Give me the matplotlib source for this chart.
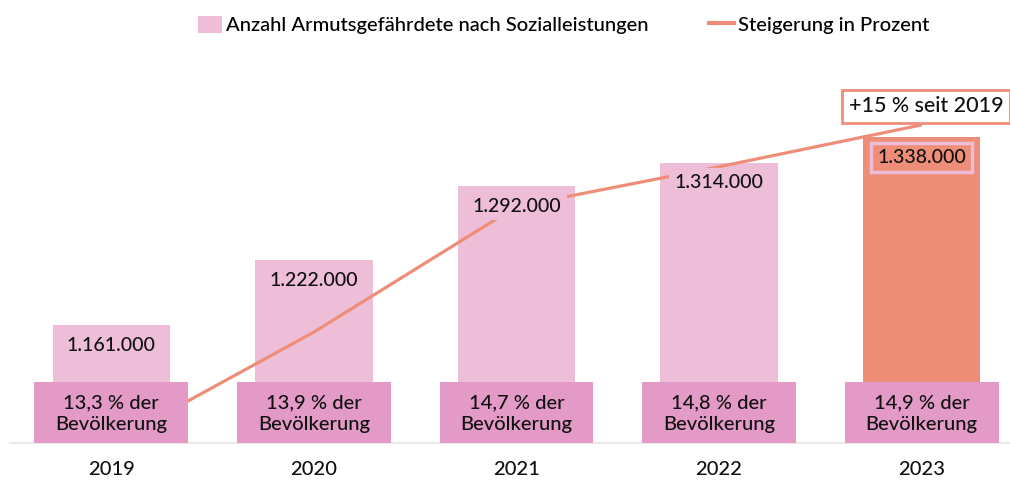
import matplotlib
matplotlib.use("Agg")
import matplotlib.pyplot as plt
from matplotlib.patches import Rectangle, Patch
from matplotlib.lines import Line2D
import matplotlib.transforms as mtransforms

plt.rcParams['font.family'] = ['Lato', 'DejaVu Sans']
plt.rcParams['font.weight'] = 500

years = ["2019", "2020", "2021", "2022", "2023"]
counts = [1161000, 1222000, 1292000, 1314000, 1338000]
count_labels = ["1.161.000", "1.222.000", "1.292.000", "1.314.000", "1.338.000"]
share_labels = ["13,3 % der\nBevölkerung", "13,9 % der\nBevölkerung", "14,7 % der\nBevölkerung",
                "14,8 % der\nBevölkerung", "14,9 % der\nBevölkerung"]
pct_increase = [0.0, 5.3, 11.3, 13.2, 15.2]
annotation_text = "+15 % seit 2019"

PINK = "#eebed9"
DARK_PINK = "#e49ac6"
SALMON = "#ee8e78"

fig = plt.figure(figsize=(10.1, 4.8), dpi=100)
ax = fig.add_axes([10/1010, 37/480, 1000/1010, 383/480])
ax2 = ax.twinx()

x = list(range(len(years)))
colors = [PINK] * (len(years) - 1) + [SALMON]
ax.bar(x, counts, width=0.58, color=colors, zorder=2)
ax.set_xlim(-0.5, -0.5 + 1000/202.6)
ax.set_ylim(1050000, 1410600)
ax2.set_ylim(0, 18.3)

ax2.plot(x, pct_increase, color=SALMON, lw=2.3, zorder=2, solid_capstyle='butt')

# value labels (above the line)
for i, (v, lab) in enumerate(zip(counts, count_labels)):
    last = i == len(years) - 1
    ax2.annotate(lab, xy=(i, v), xycoords=ax.transData, xytext=(0, -14.5),
                 textcoords='offset points', ha='center', va='center', fontsize=14,
                 color='#111111', zorder=5,
                 bbox=dict(boxstyle='square,pad=0.3',
                           fc=SALMON if last else PINK,
                           ec=PINK if last else 'none', lw=2.5 if last else 0))

# bottom boxes with population share
blend = mtransforms.blended_transform_factory(ax.transData, ax.transAxes)
for i, lab in enumerate(share_labels):
    r = Rectangle((i - 0.38, 0), 0.76, 61/383, transform=blend, fc=DARK_PINK, ec='none', zorder=4)
    ax2.add_patch(r)
    ax2.text(i, 0.077, lab, transform=blend, ha='center', va='center', fontsize=14.5,
             linespacing=1.3, color='#111111', zorder=6)

# annotation box
ax2.text(3.64, 16.1, annotation_text, ha='left', va='center', fontsize=15.5, color='#111111',
         zorder=7, clip_on=False,
         bbox=dict(boxstyle='square,pad=0.3', fc='white', ec=SALMON, lw=2))

for a in (ax, ax2):
    for s in ['top', 'right', 'left']:
        a.spines[s].set_visible(False)
    a.set_yticks([])
ax2.spines['bottom'].set_visible(False)
ax.spines['bottom'].set_color('#e6e6e6')
ax.spines['bottom'].set_linewidth(1.2)
ax.set_xticks(x)
ax.set_xticklabels(years, fontsize=14.5, color='#111111')
ax.tick_params(axis='x', length=0, pad=13)

handles = [Patch(fc=PINK, ec='none'),
           Line2D([0], [0], color=SALMON, lw=3)]
fig.legend(handles, ["Anzahl Armutsgefährdete nach Sozialleistungen", "Steigerung in Prozent"],
           loc='center', bbox_to_anchor=(0.558, 0.948), ncol=2, frameon=False, fontsize=14.5,
           handlelength=1.2, handleheight=0.9, handletextpad=0.2, columnspacing=3.0)

fig.savefig("out.png", dpi=100)
